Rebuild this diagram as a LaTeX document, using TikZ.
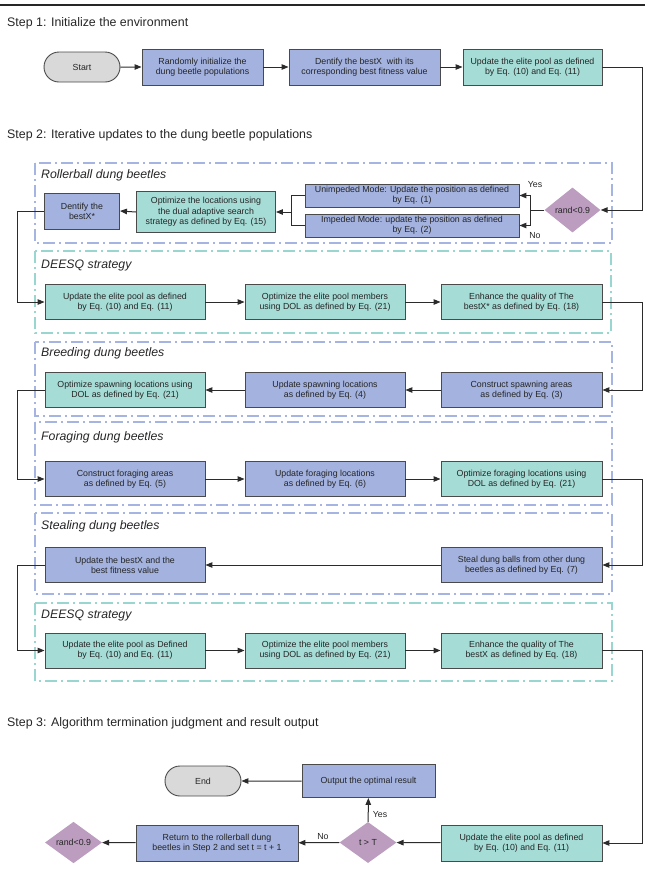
\documentclass[tikz,border=0pt]{standalone}
\usepackage{fontspec}
\setmainfont{Liberation Sans}
\usetikzlibrary{shapes.geometric,shapes.misc,arrows.meta}
\definecolor{blueF}{HTML}{A3B2DE}
\definecolor{tealF}{HTML}{A6DCD6}
\definecolor{mauveF}{HTML}{BC9DC0}
\definecolor{grayF}{HTML}{D9D9D9}
\definecolor{lineC}{HTML}{2B2B2B}
\definecolor{edgeC}{HTML}{4A4A4A}
\definecolor{frameB}{HTML}{A5B4E0}
\definecolor{frameT}{HTML}{98D6CF}
\begin{document}
\begin{tikzpicture}[x=1pt,y=-1pt,
  boxbase/.style={draw=edgeC, line width=0.9pt, align=center, inner sep=0pt,
    font=\fontsize{8.8}{10.3}\selectfont, text=black!85},
  bluebox/.style={boxbase, fill=blueF},
  tealbox/.style={boxbase, fill=tealF},
  wd/.style={minimum width=#1},
  ht/.style={minimum height=#1},
  term/.style={rounded rectangle, draw=edgeC, line width=0.9pt, fill=grayF,
    minimum width=76, minimum height=30, inner sep=0pt,
    font=\fontsize{8.8}{10.3}\selectfont, text=black!85},
  decide/.style={diamond, fill=mauveF, inner sep=0pt,
    font=\fontsize{8.8}{10.3}\selectfont, text=black!85},
  arr/.style={draw=lineC, line width=1pt, -{Triangle[length=7pt,width=5.5pt]}},
  ln/.style={draw=lineC, line width=1pt},
  framebase/.style={line width=1.1pt, dash pattern=on 12pt off 4pt on 2pt off 4pt},
  frameblue/.style={framebase, draw=frameB},
  frameteal/.style={framebase, draw=frameT},
  steptitle/.style={anchor=west, inner sep=0pt, font=\fontsize{12.4}{14}\selectfont, text=black!85},
  seclabel/.style={anchor=west, inner sep=0pt, font=\fontsize{12.3}{14}\selectfont\itshape, text=black!85},
  yn/.style={inner sep=0pt, font=\fontsize{8.8}{10}\selectfont, text=black!85}
]
\useasboundingbox (0,0) rectangle (650,879);
\draw[line width=2.5pt, black!85] (0,5) -- (645,5);

% reference columns
\coordinate (L) at (17,0);
\coordinate (R) at (642,0);

% ---------- Step 1
\node[steptitle] (st1) at (7,23) {Step 1: Initialize the environment};
\node[term] (start) at (82,67) {Start};
\node[bluebox, wd=121, ht=36] (b1) at (202.5,67) {Randomly initialize the\\dung beetle populations};
\node[bluebox, wd=151, ht=36] (b2) at (364.5,67) {Dentify the bestX\ \ with its\\corresponding best fitness value};
\node[tealbox, wd=139, ht=36] (b3) at (532.5,67) {Update the elite pool as defined\\by Eq. (10) and Eq. (11)};

% ---------- Step 2
\node[steptitle] (st2) at (7,135) {Step 2: Iterative updates to the dung beetle populations};

\draw[frameblue] (35,163) rectangle (612,243);
\draw[frameteal] (35,251) rectangle (611,333);
\draw[frameblue] (35,342) rectangle (612,416);
\draw[frameblue] (35,422) rectangle (612,505);
\draw[frameblue] (35,513) rectangle (612,594);
\draw[frameteal] (35,603) rectangle (612,681);

\node[seclabel] (lab1) at (41,175) {Rollerball dung beetles};
\node[seclabel] (lab2) at (41,265) {DEESQ strategy};
\node[seclabel] (lab3) at (41,353) {Breeding dung beetles};
\node[seclabel] (lab4) at (41,437) {Foraging dung beetles};
\node[seclabel] (lab5) at (41,526) {Stealing dung beetles};
\node[seclabel] (lab6) at (41,615) {DEESQ strategy};

% rollerball
\node[decide, minimum width=56, minimum height=45] (d1) at (572.5,210) {rand<0.9};
\node[bluebox, wd=214, ht=23] (un) at (412,195.5) {Unimpeded Mode: Update the position as defined\\by Eq. (1)};
\node[bluebox, wd=214, ht=23] (im) at (412,225.5) {Impeded Mode: update the position as defined\\by Eq. (2)};
\node[tealbox, wd=139, ht=41] (opt) at (206,212) {Optimize the locations using\\the dual adaptive search\\strategy as defined by Eq. (15)};
\node[bluebox, wd=75, ht=36] (den) at (82,211) {Dentify the\\bestX*};
\node[yn] (yes1) at (535,185) {Yes};
\node[yn] (no1) at (535,236) {No};
\coordinate (sp) at (530,210);
\coordinate (jn) at (291,212);

% DEESQ 1
\node[tealbox, wd=160, ht=35] (e1) at (125,302) {Update the elite pool as defined\\by Eq. (10) and Eq. (11)};
\node[tealbox, wd=160, ht=35] (e2) at (325,302) {Optimize the elite pool members\\using DOL as defined by Eq. (21)};
\node[tealbox, wd=161, ht=35] (e3) at (521.5,302) {Enhance the quality of The\\bestX* as defined by Eq. (18)};

% Breeding
\node[tealbox, wd=160, ht=35] (s1) at (125,390) {Optimize spawning locations using\\DOL as defined by Eq. (21)};
\node[bluebox, wd=160, ht=35] (s2) at (325,390) {Update spawning locations\\as defined by Eq. (4)};
\node[bluebox, wd=161, ht=35] (s3) at (521.5,390) {Construct spawning areas\\as defined by Eq. (3)};

% Foraging
\node[bluebox, wd=160, ht=35] (f1) at (125,479) {Construct foraging areas\\as defined by Eq. (5)};
\node[bluebox, wd=160, ht=35] (f2) at (325,479) {Update foraging locations\\as defined by Eq. (6)};
\node[tealbox, wd=161, ht=35] (f3) at (521.5,479) {Optimize foraging locations using\\DOL as defined by Eq. (21)};

% Stealing
\node[bluebox, wd=160, ht=35] (t1) at (125,565) {Update the bestX and the\\best fitness value};
\node[bluebox, wd=161, ht=35] (t3) at (521.5,565) {Steal dung balls from other dung\\beetles as defined by Eq. (7)};

% DEESQ 2
\node[tealbox, wd=160, ht=35] (g1) at (125,650.5) {Update the elite pool as Defined\\by Eq. (10) and Eq. (11)};
\node[tealbox, wd=160, ht=35] (g2) at (325,650.5) {Optimize the elite pool members\\using DOL as defined by Eq. (21)};
\node[tealbox, wd=161, ht=35] (g3) at (521.5,650.5) {Enhance the quality of The\\bestX as defined by Eq. (18)};

% ---------- Step 3
\node[steptitle] (st3) at (7,723) {Step 3: Algorithm termination judgment and result output};
\node[term] (endn) at (203,781) {End};
\node[bluebox, wd=133, ht=33] (out) at (368.5,781) {Output the optimal result};
\node[tealbox, wd=161, ht=36] (u) at (521.5,843) {Update the elite pool as defined\\by Eq. (10) and Eq. (11)};
\node[decide, minimum width=57, minimum height=41] (tT) at (368,842.5) {t > T};
\node[bluebox, wd=162, ht=36] (ret) at (217,843) {Return to the rollerball dung\\beetles in Step 2 and set t = t + 1};
\node[decide, minimum width=57, minimum height=41] (rd) at (73.5,842.5) {rand<0.9};
\node[yn] (yes2) at (380,815) {Yes};
\node[yn] (no2) at (323,837) {No};

% ---------- connectors
\draw[arr] (start) -- (b1);
\draw[arr] (b1) -- (b2);
\draw[arr] (b2) -- (b3);
\draw[arr] (b3.east) -- (b3.east -| R) -- (d1.east -| R) -- (d1.east);
\draw[ln] (d1.west) -- (sp);
\draw[arr] (sp) |- (un.east);
\draw[arr] (sp) |- (im.east);
\draw[ln] (un.west) -| (jn);
\draw[ln] (im.west) -| (jn);
\draw[arr] (jn) -- (opt.east);
\draw[arr] (opt.west) -- (den.east);
\draw[arr] (den.west) -- (den.west -| L) -- (e1.west -| L) -- (e1.west);
\draw[arr] (e1) -- (e2);
\draw[arr] (e2) -- (e3);
\draw[arr] (e3.east) -- (e3.east -| R) -- (s3.east -| R) -- (s3.east);
\draw[arr] (s3) -- (s2);
\draw[arr] (s2) -- (s1);
\draw[arr] (s1.west) -- (s1.west -| L) -- (f1.west -| L) -- (f1.west);
\draw[arr] (f1) -- (f2);
\draw[arr] (f2) -- (f3);
\draw[arr] (f3.east) -- (f3.east -| R) -- (t3.east -| R) -- (t3.east);
\draw[arr] (t3) -- (t1);
\draw[arr] (t1.west) -- (t1.west -| L) -- (g1.west -| L) -- (g1.west);
\draw[arr] (g1) -- (g2);
\draw[arr] (g2) -- (g3);
\draw[arr] (g3.east) -- (g3.east -| R) -- (u.east -| R) -- (u.east);
\draw[arr] (u) -- (tT);
\draw[arr] (tT) -- (ret);
\draw[arr] (tT) -- (out);
\draw[arr] (out) -- (endn);
\draw[arr] (ret) -- (rd);
\end{tikzpicture}
\end{document}
